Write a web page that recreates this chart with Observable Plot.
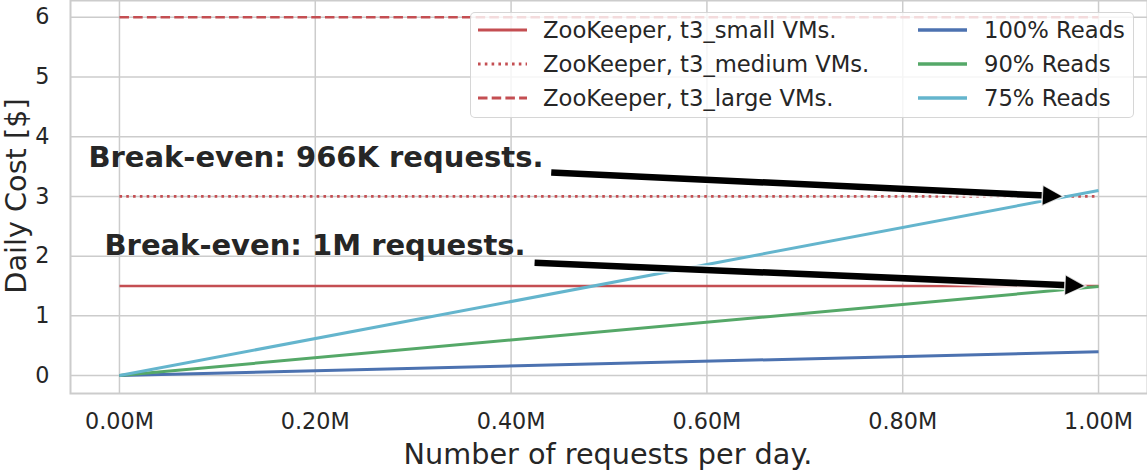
<!DOCTYPE html>
<html><head><meta charset="utf-8">
<script src="https://cdn.jsdelivr.net/npm/d3@7"></script>
<script src="https://cdn.jsdelivr.net/npm/@observablehq/plot@0.6"></script>
<style>
html,body{margin:0;padding:0;background:#fff;}
#wrap{position:relative;width:1147px;height:472px;overflow:hidden;font-family:"DejaVu Sans",sans-serif;color:#262626;}
#wrap svg{position:absolute;left:0;top:0;}
.ttl{position:absolute;white-space:nowrap;font-size:28.7px;line-height:1;}
#legendBox{position:absolute;left:470px;top:12px;width:664px;height:106px;box-sizing:border-box;border:1.5px solid rgba(204,204,204,0.8);border-radius:5px;background:rgba(255,255,255,0.8);}
.li{position:absolute;white-space:nowrap;font-size:22.7px;line-height:1;}
.sw{position:absolute;}
</style></head><body><div id="wrap"></div>
<script>
// ---- data ----
const requests = [0, 1000000];
const zkSmall  = [1.5, 1.5];
const zkMedium = [3.0, 3.0];
const zkLarge  = [6.0, 6.0];
const reads100 = [0, 0.40];
const reads90  = [0, 1.49];
const reads75  = [0, 3.10];
const seriesNames  = ["ZooKeeper, t3_small VMs.", "ZooKeeper, t3_medium VMs.", "ZooKeeper, t3_large VMs.", "100% Reads", "90% Reads", "75% Reads"];
const seriesValues = [zkSmall, zkMedium, zkLarge, reads100, reads90, reads75];
const seriesColors = ["#C44E52", "#C44E52", "#C44E52", "#4C72B0", "#55A868", "#64B5CD"];
const seriesDash   = [null, "2.6,4.2", "9.5,4.2", null, null, null];
const seriesWidth  = [2.6, 2.6, 2.6, 3, 3, 3];
const xTicks = [0, 200000, 400000, 600000, 800000, 1000000];
const yTicks = [0, 1, 2, 3, 4, 5, 6];
const annoLabels = ["Break-even: 966K requests.", "Break-even: 1M requests."];
const annoTextX  = [-31700, -15300];
const annoTextY  = [3.65, 2.17];
const arrowFromX = [441000, 424000];
const arrowFromY = [3.40, 1.89];
const arrowToX   = [964000, 987000];
const arrowToY   = [3.0, 1.5];

// ---- layout ----
const W = 1147, H = 472, mL = 70, mR = 0, mT = 0, mB = 79;
const xDomain = [-50000, 1050000], yDomain = [-0.3, 6.28];
const sx = d3.scaleLinear(xDomain, [mL, W - mR]);
const sy = d3.scaleLinear(yDomain, [H - mB, mT]);

const lineMarks = seriesNames.map((name, i) =>
  Plot.line(requests.map((r, j) => ({x: r, y: seriesValues[i][j]})), {
    x: "x", y: "y", stroke: seriesColors[i], strokeWidth: seriesWidth[i],
    strokeDasharray: seriesDash[i] || undefined, strokeLinecap: "butt"
  })
);

const arrows = annoLabels.map((l, i) => ({
  x1: arrowFromX[i], y1: arrowFromY[i], x2: arrowToX[i], y2: arrowToY[i],
  angle: Math.atan2(sy(arrowToY[i]) - sy(arrowFromY[i]), sx(arrowToX[i]) - sx(arrowFromX[i])) * 180 / Math.PI
}));
const texts = annoLabels.map((l, i) => ({label: l, x: annoTextX[i], y: annoTextY[i]}));
const headSymbol = {draw(ctx) { ctx.moveTo(0, 0); ctx.lineTo(-21, -10.5); ctx.lineTo(-21, 10.5); ctx.closePath(); }};

const chart = Plot.plot({
  width: W, height: H, marginLeft: mL, marginRight: mR, marginTop: mT, marginBottom: mB,
  style: {fontFamily: '"DejaVu Sans", sans-serif', fontSize: "22.3px", color: "#262626", background: "transparent", overflow: "visible"},
  x: {domain: xDomain, ticks: xTicks, tickFormat: d => (d / 1e6).toFixed(2) + "M", tickSize: 0, tickPadding: 20, label: null},
  y: {domain: yDomain, ticks: yTicks, tickFormat: d => String(d), tickSize: 0, tickPadding: 21, label: null},
  marks: [
    Plot.ruleX(xTicks, {stroke: "#cccccc", strokeWidth: 1.5}),
    Plot.ruleY(yTicks, {stroke: "#cccccc", strokeWidth: 1.5}),
    Plot.frame({stroke: "#cccccc", strokeWidth: 2}),
    ...lineMarks,
    Plot.arrow(arrows, {x1: "x1", y1: "y1", x2: "x2", y2: "y2", headLength: 0, insetEnd: 10, stroke: "white", strokeOpacity: 0.75, strokeWidth: 10, strokeLinecap: "butt"}),
    Plot.arrow(arrows, {x1: "x1", y1: "y1", x2: "x2", y2: "y2", headLength: 0, insetEnd: 17, stroke: "black", strokeWidth: 6.5, strokeLinecap: "butt"}),
    Plot.dot(arrows, {x: "x2", y: "y2", symbol: headSymbol, rotate: "angle", r: 10, fill: "black", stroke: "white", strokeWidth: 1.5, strokeOpacity: 0.8}),
    Plot.text(texts, {x: "x", y: "y", text: "label", textAnchor: "start", lineAnchor: "middle", fontSize: 29, fontWeight: "bold", fill: "#262626"})
  ]
});

const wrap = document.getElementById("wrap");
wrap.appendChild(chart);

// axis titles
const xt = document.createElement("div");
xt.className = "ttl"; xt.textContent = "Number of requests per day.";
xt.style.left = "608px"; xt.style.top = "439.5px"; xt.style.transform = "translateX(-50%)";
wrap.appendChild(xt);
const yt = document.createElement("div");
yt.className = "ttl"; yt.textContent = "Daily Cost [$]";
yt.style.lineHeight = "0.9";
yt.style.left = "16.5px"; yt.style.top = "196px"; yt.style.transform = "translate(-50%,-50%) rotate(-90deg)";
wrap.appendChild(yt);

// legend
const box = document.createElement("div"); box.id = "legendBox"; wrap.appendChild(box);
const rowY = [30, 64, 98];
const colSw = [478, 918], colTx = [543, 984];
seriesNames.forEach((name, i) => {
  const col = i < 3 ? 0 : 1, row = i % 3;
  const svg = document.createElementNS("http://www.w3.org/2000/svg", "svg");
  svg.setAttribute("width", 50); svg.setAttribute("height", 10);
  svg.setAttribute("class", "sw");
  svg.style.left = colSw[col] + "px"; svg.style.top = (rowY[row] - 5) + "px";
  const ln = document.createElementNS("http://www.w3.org/2000/svg", "line");
  ln.setAttribute("x1", 0); ln.setAttribute("x2", 49); ln.setAttribute("y1", 5); ln.setAttribute("y2", 5);
  ln.setAttribute("stroke", seriesColors[i]); ln.setAttribute("stroke-width", seriesWidth[i] + 0.5);
  if (seriesDash[i]) ln.setAttribute("stroke-dasharray", seriesDash[i]);
  svg.appendChild(ln); wrap.appendChild(svg);
  const t = document.createElement("div");
  t.className = "li"; t.textContent = name;
  t.style.left = colTx[col] + "px"; t.style.top = (rowY[row] - 11.3) + "px";
  wrap.appendChild(t);
});
</script></body></html>
